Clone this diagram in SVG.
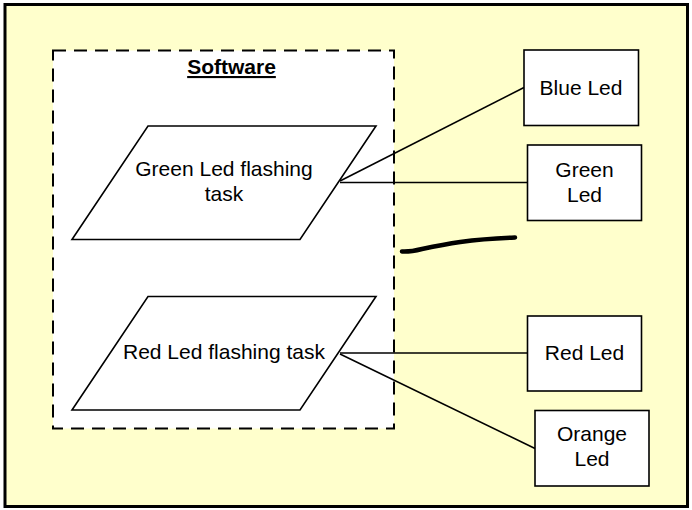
<svg xmlns="http://www.w3.org/2000/svg" width="692" height="510" viewBox="0 0 692 510">
<style>
  .lbl { font-family: "Liberation Sans", Arial, sans-serif; font-size: 21px; fill: #000; text-anchor: middle; }
  .title { font-weight: bold; text-decoration: underline; }
  .shape { fill: #fff; stroke: #000; stroke-width: 1.6; }
  .conn { fill: none; stroke: #000; stroke-width: 1.6; }
</style>
<rect x="0" y="0" width="692" height="510" fill="#fff"/>
<g id="frame">
  <rect x="5" y="4.5" width="682.5" height="502" fill="#ffffcc" stroke="#000" stroke-width="3"/>
</g>
<g id="software">
  <rect x="53" y="50.5" width="341" height="378" fill="#fff" stroke="#000" stroke-width="2" stroke-dasharray="13 8"/>
  <text class="lbl title" x="231.5" y="74">Software</text>
</g>
<g id="connectors">
  <line class="conn" x1="340" y1="181" x2="524" y2="87.5"/>
  <line class="conn" x1="340" y1="182.5" x2="527.5" y2="182.5"/>
  <line class="conn" x1="340" y1="353" x2="527.5" y2="353"/>
  <line class="conn" x1="340" y1="354" x2="535" y2="448.5"/>
</g>
<g id="green-task">
  <polygon class="shape" points="148,126 376,126 300,239.5 72,239.5"/>
  <text class="lbl" x="224" y="176">Green Led flashing</text>
  <text class="lbl" x="224" y="201">task</text>
</g>
<g id="red-task">
  <polygon class="shape" points="148,296.5 376,296.5 300,410 72,410"/>
  <text class="lbl" x="224" y="359">Red Led flashing task</text>
</g>
<g id="blue-led">
  <rect class="shape" x="524" y="50" width="114.5" height="75.5"/>
  <text class="lbl" x="581" y="95">Blue Led</text>
</g>
<g id="green-led">
  <rect class="shape" x="527.5" y="145" width="114" height="75.5"/>
  <text class="lbl" x="584.5" y="177">Green</text>
  <text class="lbl" x="584.5" y="202">Led</text>
</g>
<g id="red-led">
  <rect class="shape" x="527.5" y="316" width="114" height="75"/>
  <text class="lbl" x="584.5" y="360">Red Led</text>
</g>
<g id="orange-led">
  <rect class="shape" x="535" y="410.5" width="114" height="75.5"/>
  <text class="lbl" x="592" y="441">Orange</text>
  <text class="lbl" x="592" y="466">Led</text>
</g>
<g id="squiggle">
  <path d="M402,251.5 C410,252 414,251 422,249 C445,244 470,239 515,237.5" fill="none" stroke="#000" stroke-width="4.5" stroke-linecap="round"/>
</g>
</svg>
